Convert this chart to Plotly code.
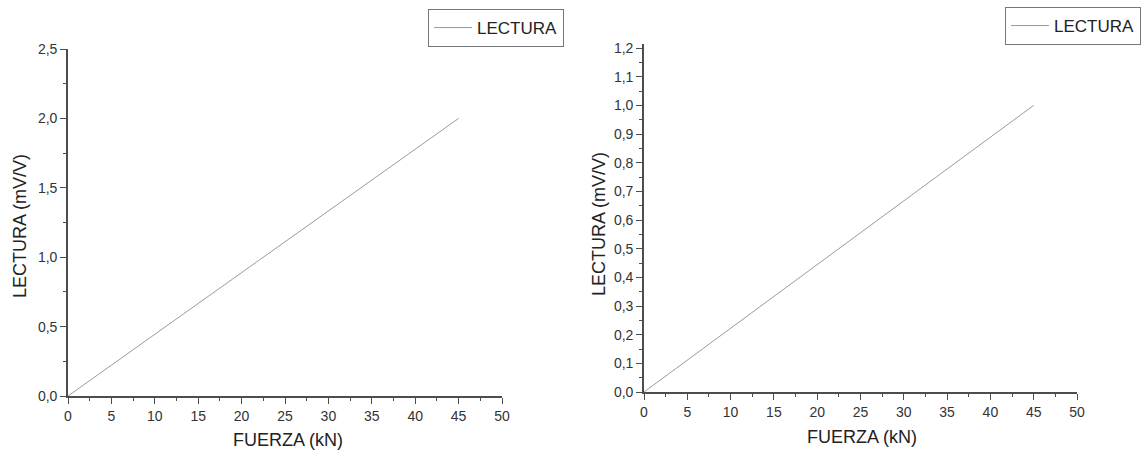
import plotly.graph_objects as go

# Data
fuerza = [0, 45]
lectura_left = [0.0, 2.0]
lectura_right = [0.0, 1.0]
x_ticks = [0, 5, 10, 15, 20, 25, 30, 35, 40, 45, 50]
series_name = "LECTURA"
x_title = "FUERZA (kN)"
y_title = "LECTURA (mV/V)"

W, H = 1141, 453
def px(x): return x / W
def py(y): return 1 - y / H

axis_color = "#4d4d4d"
font_family = "Liberation Sans, Arial, sans-serif"
tick_font = dict(family=font_family, size=14, color="#333333")

fig = go.Figure()
fig.add_trace(go.Scatter(x=fuerza, y=lectura_left, mode="lines", name=series_name,
                         line=dict(color="#9a9a9a", width=1), xaxis="x", yaxis="y",
                         legend="legend"))
fig.add_trace(go.Scatter(x=fuerza, y=lectura_right, mode="lines", name=series_name,
                         line=dict(color="#9a9a9a", width=1), xaxis="x2", yaxis="y2",
                         legend="legend2"))

common_axis = dict(showline=True, linecolor=axis_color, linewidth=1.6, showgrid=False,
                   zeroline=False, ticks="outside", ticklen=6, tickwidth=1.3,
                   tickcolor=axis_color, tickfont=tick_font)

legend_font = dict(family=font_family, size=17, color="#222222")

fig.update_layout(
    autosize=True, margin=dict(l=0, r=0, t=0, b=0, autoexpand=False),
    paper_bgcolor="white", plot_bgcolor="white",
    separators=",.",
    font=dict(family=font_family, color="#222222"),
    xaxis=dict(domain=[px(68), px(502)], range=[0, 50], tickvals=x_ticks,
               minor=dict(ticks="outside", dtick=2.5, ticklen=3, tickcolor=axis_color),
               anchor="y", **common_axis),
    yaxis=dict(domain=[py(396), py(49)], range=[0, 2.5], dtick=0.5, tick0=0,
               tickformat=".1f",
               minor=dict(ticks="outside", dtick=0.25, ticklen=3, tickcolor=axis_color),
               anchor="x", **common_axis),
    xaxis2=dict(domain=[px(644), px(1077)], range=[0, 50], tickvals=x_ticks,
                minor=dict(ticks="outside", dtick=2.5, ticklen=3, tickcolor=axis_color),
                anchor="y2", **common_axis),
    yaxis2=dict(domain=[py(392), py(44)], range=[0, 1.214], dtick=0.1, tick0=0,
                tickformat=".1f",
                minor=dict(ticks="outside", dtick=0.05, ticklen=3, tickcolor=axis_color),
                anchor="x2", **common_axis),
    legend=dict(x=px(428), y=py(9), xanchor="left", yanchor="top",
                bordercolor="#777777", borderwidth=1, bgcolor="white",
                font=legend_font, itemwidth=38, tracegroupgap=0),
    legend2=dict(x=px(1005), y=py(7), xanchor="left", yanchor="top",
                 bordercolor="#777777", borderwidth=1, bgcolor="white",
                 font=legend_font, itemwidth=38, tracegroupgap=0),
    showlegend=True,
)

title_font = dict(family=font_family, size=18, color="#222222")
fig.add_annotation(text=y_title, x=px(20), y=py(226), xref="paper", yref="paper",
                   xanchor="center", yanchor="middle",
                   textangle=-90, showarrow=False, font=title_font)
fig.add_annotation(text=y_title, x=px(599), y=py(224), xref="paper", yref="paper",
                   xanchor="center", yanchor="middle",
                   textangle=-90, showarrow=False, font=title_font)
fig.add_annotation(text=x_title, x=px(288), y=py(440), xref="paper", yref="paper",
                   xanchor="center", yanchor="middle",
                   showarrow=False, font=title_font)
fig.add_annotation(text=x_title, x=px(862), y=py(437), xref="paper", yref="paper",
                   xanchor="center", yanchor="middle",
                   showarrow=False, font=title_font)

fig.write_html(
    "out.html",
    default_width="100vw",
    default_height="100vh",
    config={"responsive": True, "displayModeBar": False},
    post_script=("document.body.style.margin='0';document.body.style.overflow='hidden';"
                 "Plotly.Plots.resize(document.getElementById('{plot_id}'));"),
)
